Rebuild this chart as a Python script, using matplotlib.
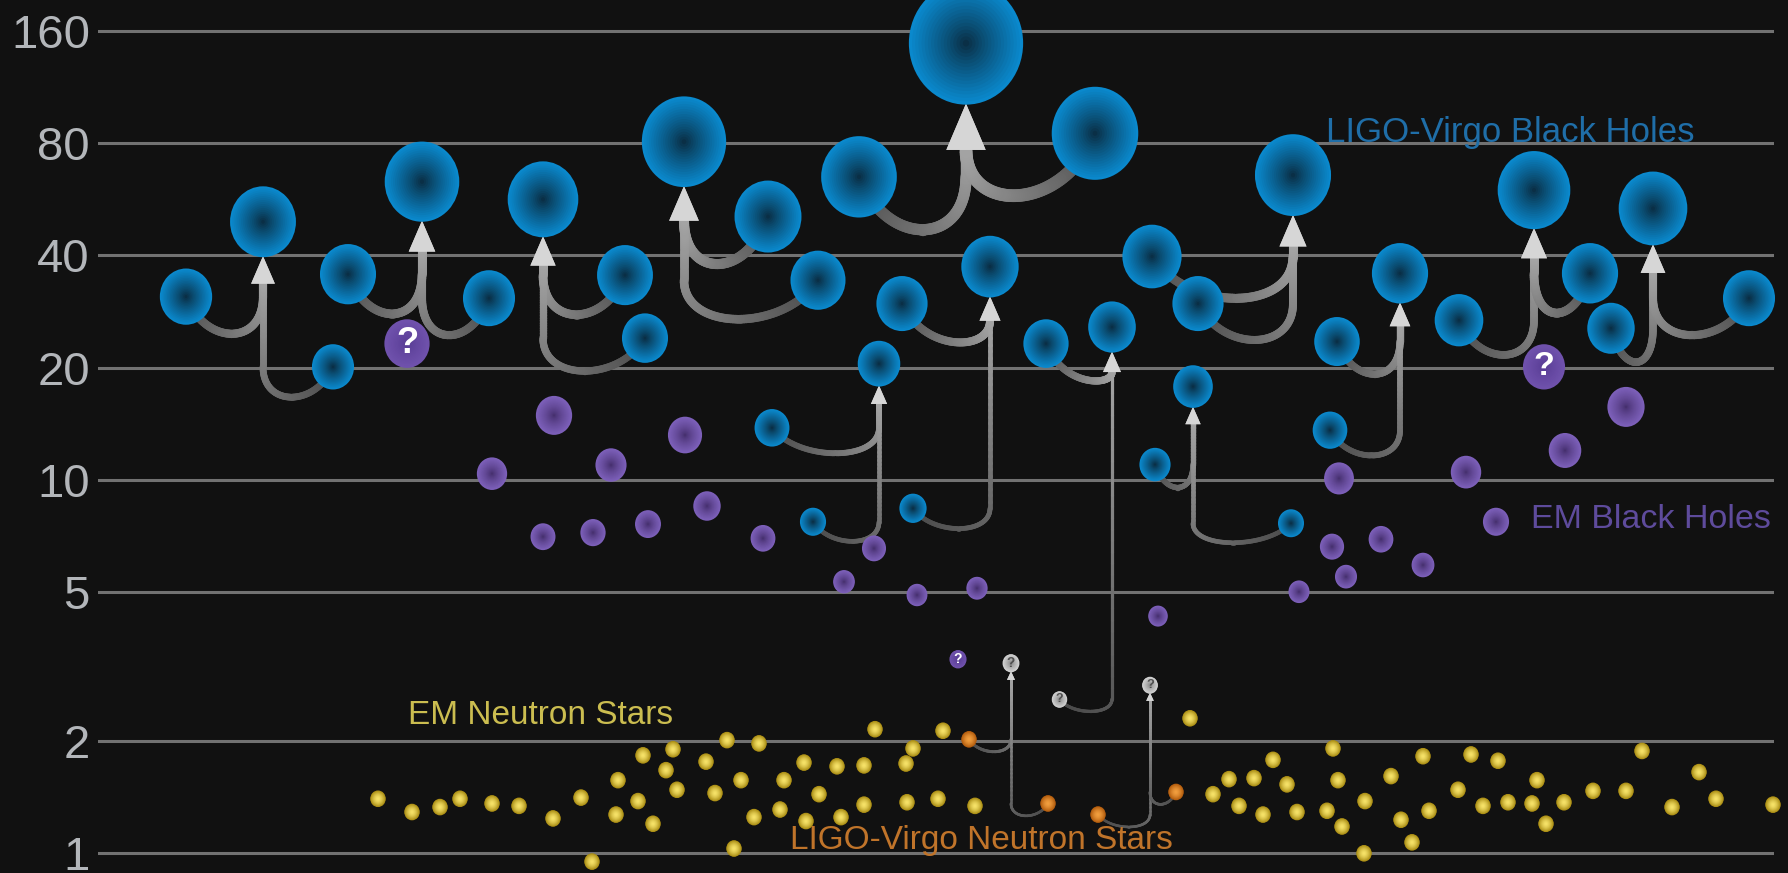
import numpy as np
import matplotlib
matplotlib.use("Agg")
import matplotlib.pyplot as plt
from matplotlib.path import Path
from matplotlib.markers import MarkerStyle
from matplotlib.collections import LineCollection
from matplotlib.colors import to_rgb

plt.rcParams["font.family"] = ["Liberation Sans", "DejaVu Sans"]

# ---------------------------------------------------------------- data
mass_ticks = [1, 2, 5, 10, 20, 40, 80, 160]
tick_labels = ["1", "2", "5", "10", "20", "40", "80", "160"]

# Gravitational-wave mergers: two progenitors -> remnant (position, solar masses)
merger_p1_x = [186, 348, 625, 768, 859, 772, 902, 1046, 1155, 1152, 1337, 1459, 1611, 969, 1098]
merger_p1_m = [31.0, 35.6, 35.4, 50.8, 64.9, 13.8, 29.7, 23.2, 11.0, 39.7, 23.5, 26.8, 25.5, 2.02, 1.27]
merger_p2_x = [333, 489, 645, 818, 1095, 813, 913, 1059, 1291, 1198, 1330, 1590, 1749, 1048, 1176]
merger_p2_m = [20.1, 30.7, 24.0, 34.3, 84.9, 7.73, 8.40, 2.59, 7.66, 29.7, 13.6, 35.8, 30.7, 1.36, 1.46]
merger_c_x = [263, 422, 543, 684, 966, 879, 990, 1112, 1193, 1293, 1400, 1534, 1653, 1011, 1150]
merger_c_m = [49.2, 63.0, 56.5, 80.6, 148, 20.5, 37.3, 25.7, 17.8, 65.6, 35.8, 59.8, 53.4, 3.23, 2.82]
merger_p1_kind = ["bh"] * 13 + ["ns", "ns"]
merger_p2_kind = ["bh"] * 7 + ["gap"] + ["bh"] * 5 + ["ns", "ns"]
merger_c_kind = ["bh"] * 13 + ["gap", "gap"]

# Black holes measured from electromagnetic observations
em_bh_x = [554, 492, 543, 593, 611, 685, 648, 707, 763, 874, 844, 917, 977, 1158,
           1339, 1466, 1565, 1626, 1496, 1332, 1381, 1346, 1423, 1299]
em_bh_m = [14.9, 10.4, 7.05, 7.23, 10.97, 13.2, 7.62, 8.52, 6.98, 6.56, 5.34, 4.92, 5.13, 4.32,
           10.1, 10.5, 12.0, 15.7, 7.73, 6.63, 6.94, 5.51, 5.92, 5.02]
# uncertain electromagnetic candidates
em_q_x = [407, 1544, 958]
em_q_m = [23.2, 20.1, 3.31]

# Neutron stars measured from electromagnetic observations
em_ns_x = [378, 412, 440, 460, 492, 519, 553, 581, 592, 618, 616, 643, 638, 653, 673, 666, 677, 706, 715,
           727, 759, 875, 943, 913, 804, 837, 864, 906, 741, 784, 819, 754, 780, 806, 841, 864, 907, 938, 975, 734,
           1190, 1213, 1229, 1254, 1273, 1287, 1239, 1263, 1297, 1333, 1338, 1327, 1342, 1365, 1364, 1391, 1401,
           1412, 1423, 1429,
           1471, 1498, 1458, 1483, 1508, 1532, 1537, 1546, 1564, 1593, 1626, 1642, 1672, 1699, 1716, 1773]
em_ns_m = [1.40, 1.29, 1.33, 1.40, 1.36, 1.34, 1.24, 1.41, 0.95, 1.57, 1.27, 1.83, 1.38, 1.20, 1.90, 1.67, 1.48,
           1.76, 1.45,
           2.01, 1.97, 2.15, 2.13, 1.91, 1.75, 1.71, 1.72, 1.74, 1.57, 1.57, 1.44, 1.25, 1.31, 1.22, 1.25, 1.35,
           1.37, 1.40, 1.34, 1.03,
           2.30, 1.44, 1.58, 1.59, 1.78, 1.53, 1.34, 1.27, 1.29, 1.91, 1.57, 1.30, 1.18, 1.38, 1.00, 1.61, 1.23,
           1.07, 1.82, 1.30,
           1.84, 1.77, 1.48, 1.34, 1.37, 1.36, 1.57, 1.20, 1.37, 1.47, 1.47, 1.88, 1.33, 1.65, 1.40, 1.35]

# ---------------------------------------------------------------- figure
W, H, DPI = 1788, 873, 100
BG = "#111111"
XMIN, XMAX = 97.6, 1773.5
YMIN, YMAX = 0.8856, 193.2

fig = plt.figure(figsize=(W / DPI, H / DPI), dpi=DPI, facecolor=BG)
ax = fig.add_axes([XMIN / W, 0.0, (XMAX - XMIN) / W, 1.0])
ax.set_facecolor(BG)
ax.set_xlim(XMIN, XMAX)
ax.set_yscale("log", base=2)
ax.set_ylim(YMIN, YMAX)
ax.set_yticks(mass_ticks)
ax.set_yticklabels(tick_labels)
ax.yaxis.set_minor_locator(matplotlib.ticker.NullLocator())
ax.set_xticks([])
ax.tick_params(axis="y", length=0, pad=5.5, labelsize=34, labelcolor="#b3b6ba")
for sp in ax.spines.values():
    sp.set_visible(False)
ax.grid(axis="y", color="#727272", linewidth=2.2)
ax.set_axisbelow(True)

# pixel geometry of the axes
AX_W_PX = (XMAX - XMIN) / W * W
SX = AX_W_PX / (XMAX - XMIN)
SPO = H / np.log2(YMAX / YMIN)          # pixels per octave of mass
PT = 72.0 / DPI                         # points per pixel


def to_px(x, m):
    return (np.asarray(x, float) - XMIN) * SX, np.log2(np.asarray(m, float) / YMIN) * SPO


def from_px(px, py):
    return XMIN + np.asarray(px) / SX, YMIN * 2.0 ** (np.asarray(py) / SPO)


def radius(m):
    return 5.05 * np.sqrt(np.maximum(np.asarray(m, float), 2.7))


# slightly narrow disc marker
_circ = Path.unit_circle()
DISC = MarkerStyle(Path(_circ.vertices * [0.93, 1.0], _circ.codes))

STYLE = {
    "bh": ("#0a89cd", "#0a2739", 0.85),
    "ns": ("#b05a0c", "#f3a040", 1.6),
    "gap": ("#d2d2d2", "#7a7a7a", 0.7),
    "em_bh": ("#7d60ba", "#3e2964", 0.7),
    "em_q": ("#7052ad", "#563a92", 0.8),
    "em_ns": ("#a88b12", "#f8e46a", 1.6),
}


def orbs(x, m, kind, layers=18, zorder=4):
    if len(x) == 0:
        return
    edge, center, power = STYLE[kind]
    e, c = np.array(to_rgb(edge)), np.array(to_rgb(center))
    r = radius(m)
    for i in range(layers):
        f = 1.0 - i / layers
        col = c + (e - c) * f ** power
        ax.scatter(x, m, s=(2 * r * f * PT) ** 2, marker=DISC, color=[tuple(col)],
                   linewidths=0, zorder=zorder, clip_on=False)


def bezier(p0, p1, p2, p3, n=80):
    t = np.linspace(0, 1, n)[:, None]
    return ((1 - t) ** 3) * p0 + 3 * (1 - t) ** 2 * t * p1 + 3 * (1 - t) * t ** 2 * p2 + t ** 3 * p3


DARK, LIGHT = np.array(to_rgb("#484848")), np.array(to_rgb("#a4a4a4"))


def merger_arrow(xp, mp, xc, mc):
    X0, Y0 = to_px(xp, mp)
    XC, YC = to_px(xc, mc)
    rp, rc = radius(mp), radius(mc)
    tip = YC - rc + 1.0
    ah = 0.72 * rc + 2.0
    aw = 0.6 * rc + 2.5
    base = tip - ah
    dip = 1.25 * rp + 2.0
    y_end = min(Y0, base)
    yb = Y0 - dip / 0.75
    curve = bezier(np.array([X0, Y0]), np.array([X0 + 0.25 * (XC - X0), yb]),
                   np.array([XC, yb]), np.array([XC, y_end]))
    pts = curve
    if y_end < base:
        stem = np.column_stack([np.full(30, XC), np.linspace(y_end, base + 2, 30)])
        pts = np.vstack([curve, stem[1:]])
    seg_len = np.hypot(*np.diff(pts, axis=0).T)
    s = np.concatenate([[0], np.cumsum(seg_len)])
    s = s / s[-1]
    dx, dy = from_px(pts[:, 0], pts[:, 1])
    xy = np.column_stack([dx, dy])
    segs = np.stack([xy[:-1], xy[1:]], axis=1)
    cols = [tuple(DARK + (LIGHT - DARK) * v) for v in 0.5 * (s[:-1] + s[1:])]
    lw = (1.25 * np.sqrt(mp) + 1.2) * PT
    ax.add_collection(LineCollection(segs, colors=cols, linewidths=lw,
                                     capstyle="round", zorder=2))
    return XC, tip, base, aw


arrowheads = []
for i in range(len(merger_c_x)):
    for xp, mp in ((merger_p1_x[i], merger_p1_m[i]), (merger_p2_x[i], merger_p2_m[i])):
        arrowheads.append(merger_arrow(xp, mp, merger_c_x[i], merger_c_m[i]))

for XC, tip, base, aw in arrowheads:
    hx, hy = from_px([XC, XC - aw / 2, XC + aw / 2], [tip, base, base])
    ax.fill(hx, hy, color="#d6d6d6", lw=0, zorder=3)

# ---------------------------------------------------------------- objects
orbs(em_ns_x, em_ns_m, "em_ns")
orbs(em_bh_x, em_bh_m, "em_bh")
orbs(em_q_x, em_q_m, "em_q")

for kinds, xs, ms in ((merger_p1_kind, merger_p1_x, merger_p1_m),
                      (merger_p2_kind, merger_p2_x, merger_p2_m),
                      (merger_c_kind, merger_c_x, merger_c_m)):
    for k in ("bh", "ns", "gap"):
        sel = [j for j, kk in enumerate(kinds) if kk == k]
        orbs([xs[j] for j in sel], [ms[j] for j in sel], k)


def question(x, m, color):
    r = radius(m)
    ax.text(x, m, "?", ha="center", va="center", color=color, fontweight="bold",
            fontsize=1.5 * r * PT, zorder=6)


for x, m in zip(em_q_x, em_q_m):
    question(x, m, "white")
for kinds, xs, ms in ((merger_p2_kind, merger_p2_x, merger_p2_m),
                      (merger_c_kind, merger_c_x, merger_c_m)):
    for k, x, m in zip(kinds, xs, ms):
        if k == "gap":
            question(x, m, "#505050")

# ---------------------------------------------------------------- labels
ax.text(1326, 80.5, "LIGO-Virgo Black Holes", color="#1f6ea8", fontsize=25,
        ha="left", va="baseline", zorder=7)
ax.text(1531, 7.43, "EM Black Holes", color="#5e4b9c", fontsize=24.5,
        ha="left", va="baseline", zorder=7)
ax.text(408, 2.22, "EM Neutron Stars", color="#cbbd50", fontsize=24,
        ha="left", va="baseline", zorder=7)
ax.text(790, 1.027, "LIGO-Virgo Neutron Stars", color="#c0742a", fontsize=24,
        ha="left", va="baseline", zorder=7)

fig.savefig("out.png", dpi=DPI, facecolor=BG)
